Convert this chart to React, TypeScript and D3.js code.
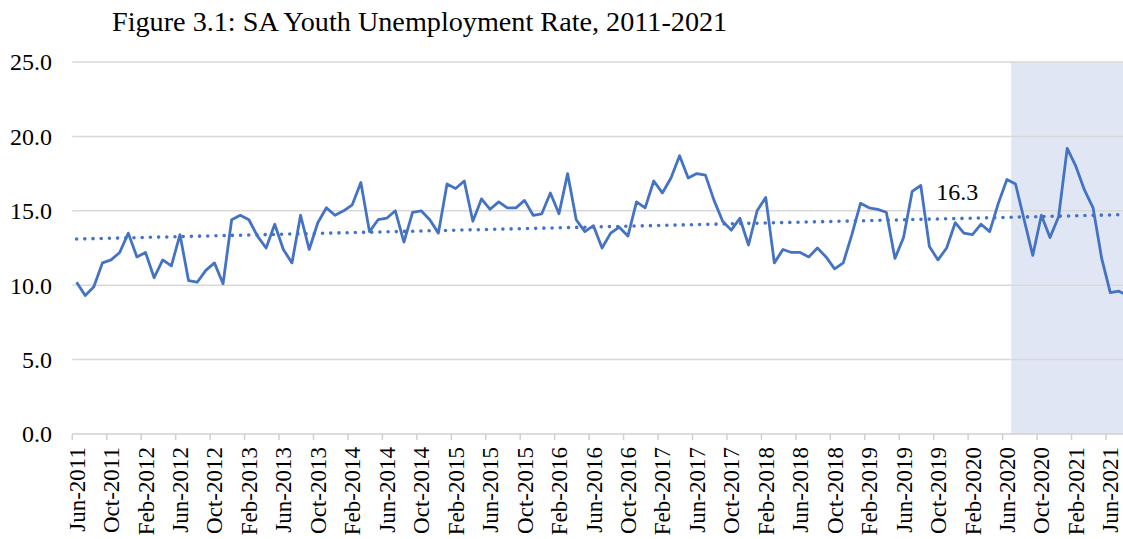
import React from "react";
import * as d3 from "d3";

// Monthly youth unemployment rate (%), June 2011 onward
const START_MONTH = new Date(2011, 5, 1);
const rates: number[] = [
  10.2, 9.3, 9.9, 11.5, 11.7, 12.2, 13.5, 11.9, 12.2, 10.5,
  11.7, 11.3, 13.4, 10.3, 10.2, 11.0, 11.5, 10.1, 14.4, 14.7,
  14.4, 13.3, 12.5, 14.1, 12.4, 11.5, 14.7, 12.4, 14.2, 15.2,
  14.7, 15.0, 15.4, 16.9, 13.6, 14.4, 14.5, 15.0, 12.9, 14.9,
  15.0, 14.4, 13.5, 16.8, 16.5, 17.0, 14.3, 15.8, 15.1, 15.6,
  15.2, 15.2, 15.7, 14.7, 14.8, 16.2, 14.8, 17.5, 14.4, 13.6,
  14.0, 12.5, 13.5, 13.9, 13.3, 15.6, 15.2, 17.0, 16.2, 17.2,
  18.7, 17.2, 17.5, 17.4, 15.7, 14.3, 13.7, 14.5, 12.7, 15.0,
  15.9, 11.5, 12.4, 12.2, 12.2, 11.9, 12.5, 11.9, 11.1, 11.5,
  13.4, 15.5, 15.2, 15.1, 14.9, 11.8, 13.2, 16.3, 16.7, 12.6,
  11.7, 12.5, 14.2, 13.5, 13.4, 14.1, 13.6, 15.5, 17.1, 16.8,
  14.4, 12.0, 14.7, 13.2, 14.6, 19.2, 18.0, 16.4, 15.2, 11.8,
  9.5, 9.6, 9.3,
];

// Month categories
const months: Date[] = rates.map((_, i) => d3.timeMonth.offset(START_MONTH, i));
const fmtMonth = d3.timeFormat("%b-%Y");
const categories: string[] = months.map(fmtMonth);

// Axis settings
const yTicks: number[] = [0, 5, 10, 15, 20, 25];
const TICK_EVERY = 4;
const SHADE_FROM = "Jul-2020";
const LABELLED = "Jul-2019";

const TITLE = "Figure 3.1: SA Youth Unemployment Rate, 2011-2021";

const W = 1123;
const H = 539;
const FONT = "'Liberation Serif', 'Times New Roman', serif";
const BLUE = "#4472C4";

export default function App() {
  const x = d3
    .scaleBand<string>()
    .domain(categories)
    .range([72.3, 72.3 + categories.length * 8.614])
    .padding(0);
  const bw = x.bandwidth();
  const cx = (c: string) => (x(c) as number) + bw / 2;

  const y = d3.scaleLinear().domain([0, 25]).range([434, 62]);

  const pts = categories.map((c, i) => [cx(c), y(rates[i])] as [number, number]);
  const line = d3.line<[number, number]>()(pts) || "";

  // Linear trend by least squares over the month index
  const n = rates.length;
  const idx = d3.range(n);
  const mx = d3.mean(idx) as number;
  const my = d3.mean(rates) as number;
  const slope =
    d3.sum(idx, (i) => (i - mx) * (rates[i] - my)) /
    d3.sum(idx, (i) => (i - mx) * (i - mx));
  const icpt = my - slope * mx;
  const trend =
    d3.line<number>()
      .x((i) => cx(categories[i]))
      .y((i) => y(icpt + slope * i))([0, n - 1]) || "";

  const xLeft = x.range()[0];
  const shadeX = x(SHADE_FROM) as number;
  const tickCats = categories.filter((_, i) => i % TICK_EVERY === 0);
  const li = categories.indexOf(LABELLED);

  return (
    <div style={{ position: "absolute", left: 0, top: 0 }}>
      <svg width={W} height={H} style={{ display: "block", fontFamily: FONT }}>
        <rect x={0} y={0} width={W} height={H} fill="#ffffff" />
        <text x={112} y={31} fontSize={28.2} fill="#000">
          {TITLE}
        </text>

        {/* highlighted period */}
        <rect
          x={shadeX}
          y={y(25)}
          width={W - shadeX}
          height={y(0) - y(25)}
          fill="#E0E6F3"
        />

        {/* gridlines */}
        {yTicks.map((t) => (
          <line
            key={t}
            x1={xLeft}
            x2={W}
            y1={y(t)}
            y2={y(t)}
            stroke={t === 0 ? "#d0d0d0" : "#d9d9d9"}
            strokeWidth={1.5}
          />
        ))}

        {/* y labels */}
        {yTicks.map((t) => (
          <text
            key={"yl" + t}
            x={52}
            y={y(t)}
            dy="0.35em"
            textAnchor="end"
            fontSize={24}
            fill="#000"
          >
            {t.toFixed(1)}
          </text>
        ))}

        {/* x ticks & labels */}
        {tickCats.map((c) => (
          <g key={c}>
            <line
              x1={x(c) as number}
              x2={x(c) as number}
              y1={y(0)}
              y2={y(0) + 6}
              stroke="#d0d0d0"
              strokeWidth={1.5}
            />
            <text
              transform={`translate(${cx(c)},${447}) rotate(-90)`}
              dy="0.35em"
              textAnchor="end"
              fontSize={23}
              fill="#000"
            >
              {c}
            </text>
          </g>
        ))}

        {/* trend */}
        <path
          d={trend}
          fill="none"
          stroke={BLUE}
          strokeWidth={3.6}
          strokeDasharray="0 8.2"
          strokeLinecap="round"
        />

        {/* series */}
        <path
          d={line}
          fill="none"
          stroke={BLUE}
          strokeWidth={2.8}
          strokeLinejoin="round"
        />

        {/* value label */}
        <text
          x={cx(LABELLED) + 24}
          y={y(rates[li]) + 9}
          fontSize={24}
          fill="#000"
        >
          {rates[li].toFixed(1)}
        </text>
      </svg>
    </div>
  );
}
